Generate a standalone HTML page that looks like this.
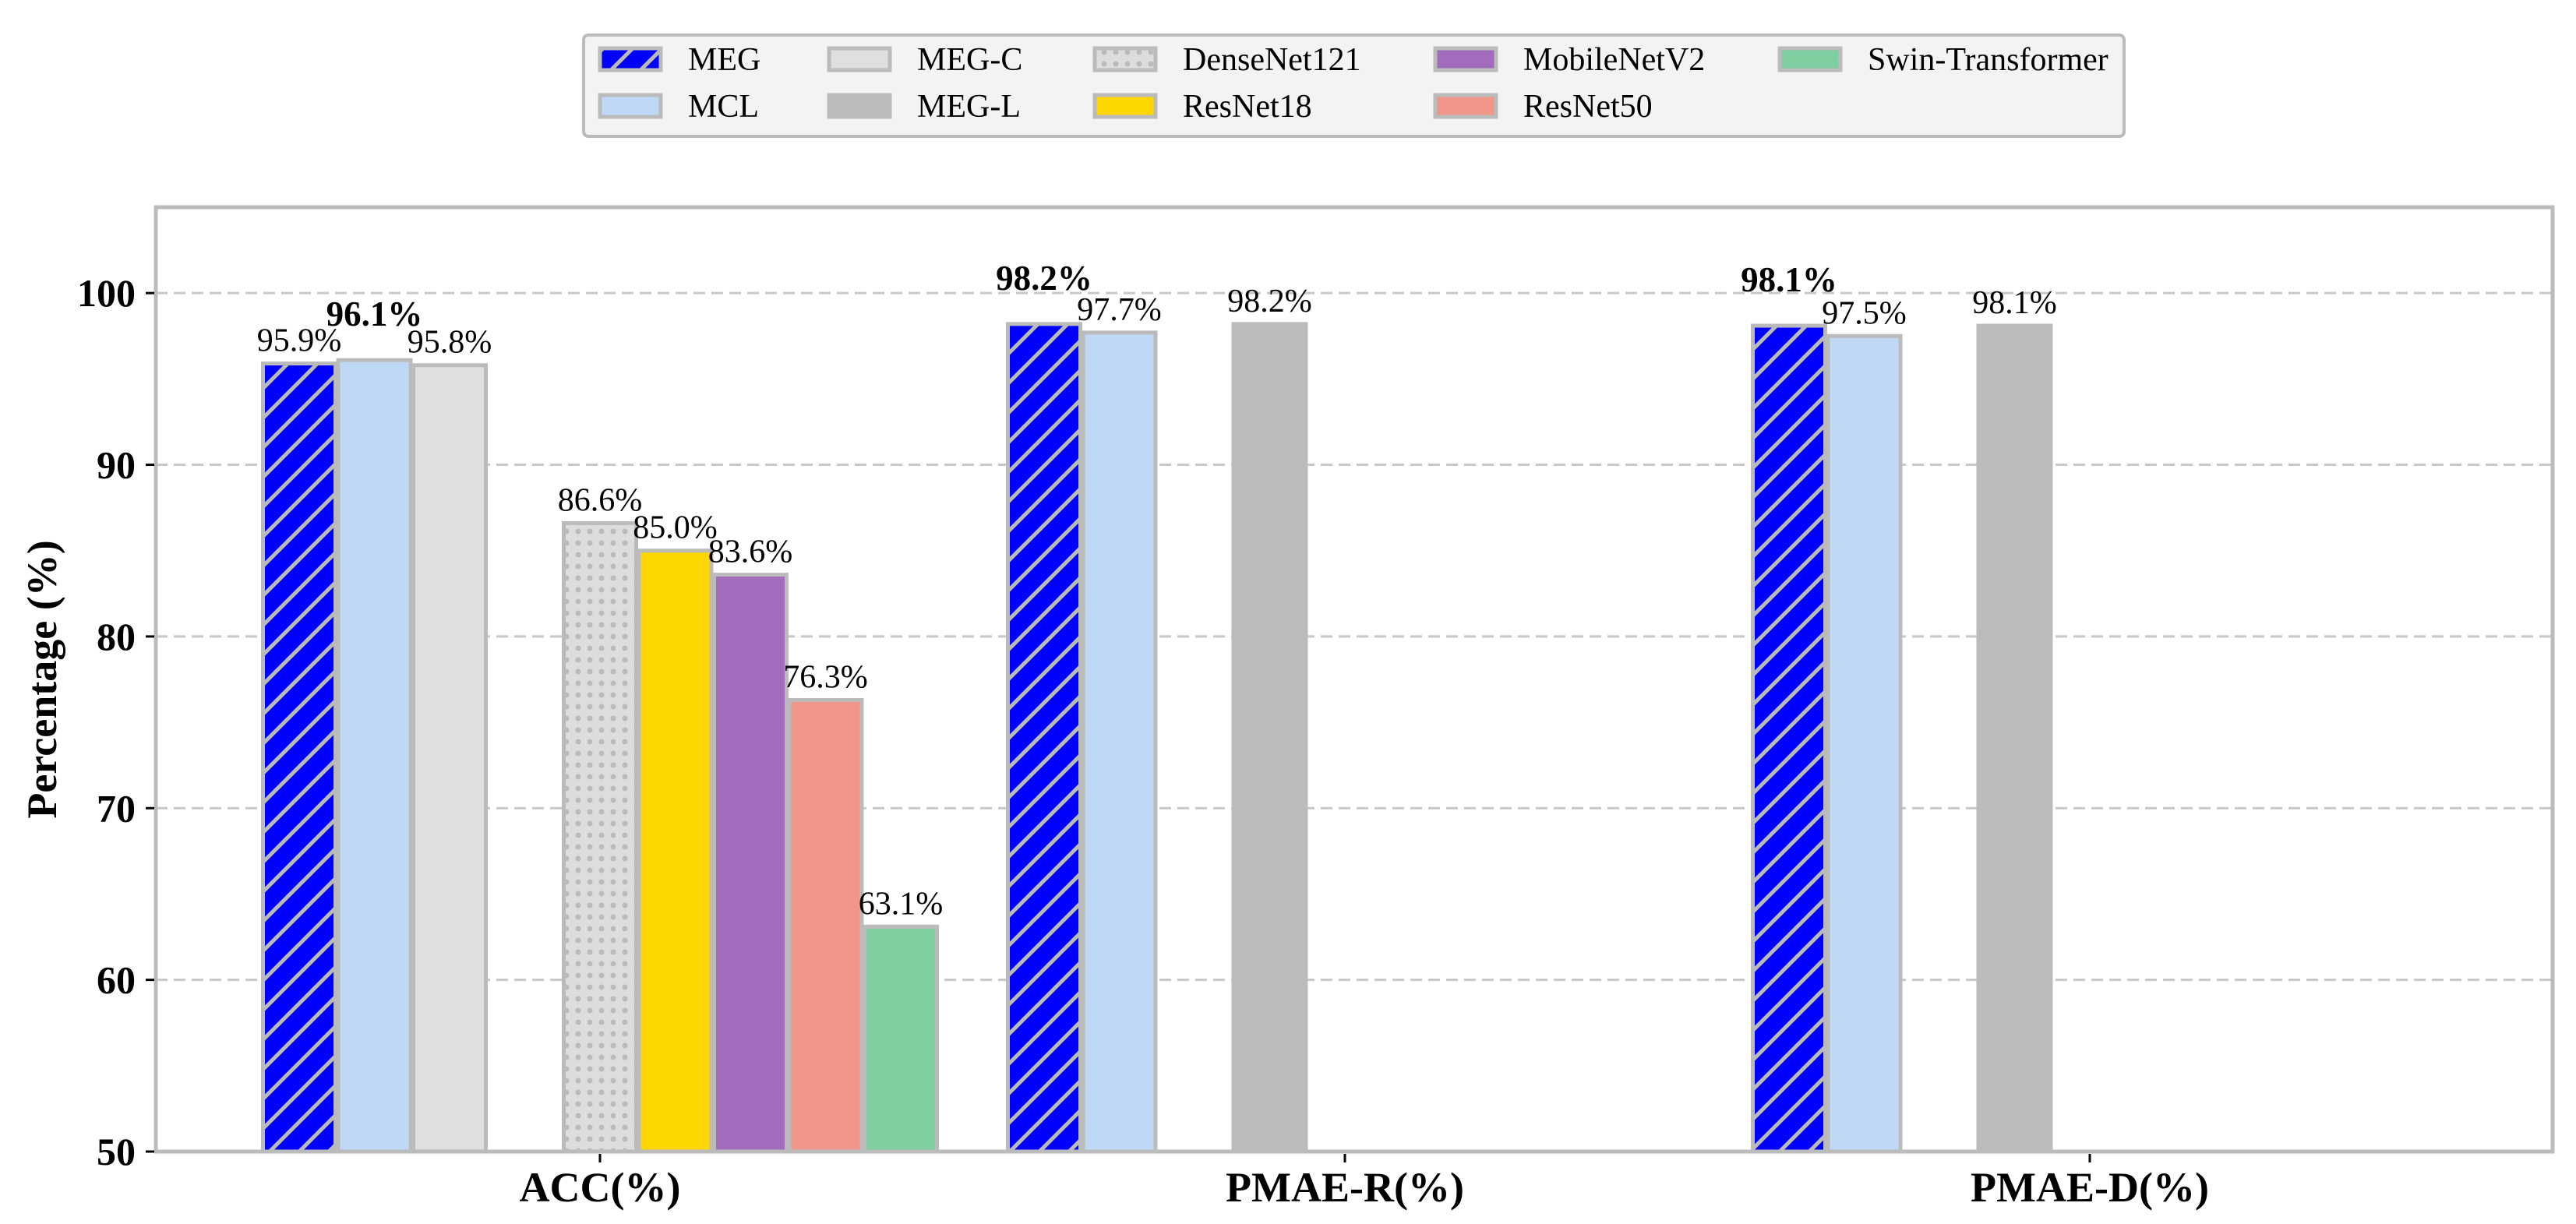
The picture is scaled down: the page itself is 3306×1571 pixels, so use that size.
<!DOCTYPE html>
<html><head><meta charset="utf-8"><style>
html,body{margin:0;padding:0;background:#fff;}
svg{display:block;font-family:"Liberation Serif",serif;}
</style></head><body>
<svg id="chart" width="3306" height="1571" viewBox="0 0 3306 1571" xmlns="http://www.w3.org/2000/svg">
<defs>
<pattern id="hatch" patternUnits="userSpaceOnUse" width="38" height="38">
<rect width="38" height="38" fill="#0000ff"/>
<path d="M-5,43 L43,-5 M-24,24 L24,-24 M14,62 L62,14" stroke="#bbbbbb" stroke-width="5"/>
</pattern>
<pattern id="dots" patternUnits="userSpaceOnUse" width="30" height="30">
<rect width="30" height="30" fill="#dddddd"/>
<circle cx="7" cy="7" r="3.5" fill="#bbbbbb"/>
<circle cx="22" cy="22" r="3.5" fill="#bbbbbb"/>
<circle cx="22" cy="7" r="3.5" fill="#bbbbbb"/>
<circle cx="7" cy="22" r="3.5" fill="#bbbbbb"/>
</pattern>
</defs>
<g id="grid"></g>
<g id="bars"></g>
<g id="labels"></g>
<rect x="200" y="266" width="3076" height="1212" fill="none" stroke="#bbbbbb" stroke-width="5"/>
<g id="axes"></g>
<text x="0" y="0" transform="translate(72,872) rotate(-90)" text-anchor="middle" font-size="54" font-weight="bold">Percentage (%)</text>
<g>
<rect x="749" y="45" width="1977" height="130" rx="6" fill="#f3f3f3" stroke="#bbbbbb" stroke-width="4"/>
<g id="legend"></g>
</g>
</svg>
<script>
const categories = ["ACC(%)", "PMAE-R(%)", "PMAE-D(%)"];
const seriesNames = ["MEG","MCL","MEG-C","MEG-L","DenseNet121","ResNet18","MobileNetV2","ResNet50","Swin-Transformer"];
const valMEG = [95.9, 98.2, 98.1];
const valMCL = [96.1, 97.7, 97.5];
const valMEGC = [95.8, null, null];
const valMEGL = [null, 98.2, 98.1];
const valDense = [86.6, null, null];
const valRes18 = [85.0, null, null];
const valMobile = [83.6, null, null];
const valRes50 = [76.3, null, null];
const valSwin = [63.1, null, null];
const boldFlags = [[false,true,false],[true,false,false],[true,false,false]]; // [series MEG/MCL/MEG-L by category]
const yTicks = [50, 60, 70, 80, 90, 100];

const allVals = [valMEG,valMCL,valMEGC,valMEGL,valDense,valRes18,valMobile,valRes50,valSwin];
const fills = ["url(#hatch)","#bfd8f5","#dfdfdf","#bbbbbb","url(#dots)","#ffd700","#a36bbb","#f0958a","#7fcfa0"];
const NS = "http://www.w3.org/2000/svg";
const y0 = 1478, yTop = 266, yMin = 50, yMax = 105;
function yScale(v){ return y0 - (v - yMin) / (yMax - yMin) * (y0 - yTop); }
const catX0 = 770, catStep = 956, slot = 96.5, barW = 93;
function xScale(ci, si){ return catX0 + ci * catStep + (si - 4) * slot; }
function mk(tag, attrs, parent){ const e=document.createElementNS(NS,tag); for(const k in attrs) e.setAttribute(k,attrs[k]); parent.appendChild(e); return e; }

const grid = document.getElementById('grid'), axes = document.getElementById('axes');
yTicks.forEach(t => {
  const y = yScale(t);
  if (t > yMin) {
    const g = mk('line',{x1:200,x2:3276,y1:y,y2:y,stroke:'#c8c8c8','stroke-width':3,'stroke-dasharray':'15,8'},grid);
    
    
  }
  const tk = mk('line',{x1:187,x2:198,y1:y,y2:y,stroke:'#000','stroke-width':3},axes);
  
  
  const tl = mk('text',{x:174,y:y+17,'text-anchor':'end','font-size':50,'font-weight':'bold'},axes);
  tl.textContent = t;
  
  
});
categories.forEach((c, ci) => {
  const x = catX0 + ci * catStep;
  const tk = mk('line',{x1:x,x2:x,y1:1481,y2:1492,stroke:'#000','stroke-width':3},axes);
  
  
  const tl = mk('text',{x:x,y:1542,'text-anchor':'middle','font-size':54,'font-weight':'bold'},axes);
  tl.textContent = c;
  
  
});

const bars = document.getElementById('bars'), labels = document.getElementById('labels');
const boldSeriesIdx = [0,1,3];
allVals.forEach((arr, si) => {
  arr.forEach((v, ci) => {
    if (v === null) return;
    const cx = xScale(ci, si), yt = yScale(v);
    const r = mk('rect',{x:cx-barW/2,y:yt,width:barW,height:y0-yt,fill:fills[si],stroke:'#bbbbbb','stroke-width':5},bars);
    
    
    const bi = boldSeriesIdx.indexOf(si);
    const bold = bi >= 0 && boldFlags[ci][bi];
    const t = mk('text',{x:cx,y:bold ? yt-44 : yt-16,'text-anchor':'middle','font-size':bold?45:42,'font-weight':bold?'bold':'normal'},labels);
    t.textContent = v.toFixed(1) + '%';
    
    
  });
});

const legend = document.getElementById('legend');
const colX = [767, 1061, 1402, 1839, 2281];
const rowY = [59, 119];
seriesNames.forEach((n, i) => {
  const col = Math.floor(i / 2), row = i % 2;
  const px = colX[col], py = rowY[row];
  const p = mk('rect',{x:px+3,y:py+3,width:78,height:28,fill:fills[i],stroke:'#bbbbbb','stroke-width':5},legend);
  
  
  const t = mk('text',{x:px+116,y:py+31,'font-size':42},legend);
  t.textContent = n;
  
  
});
</script>
</body></html>
